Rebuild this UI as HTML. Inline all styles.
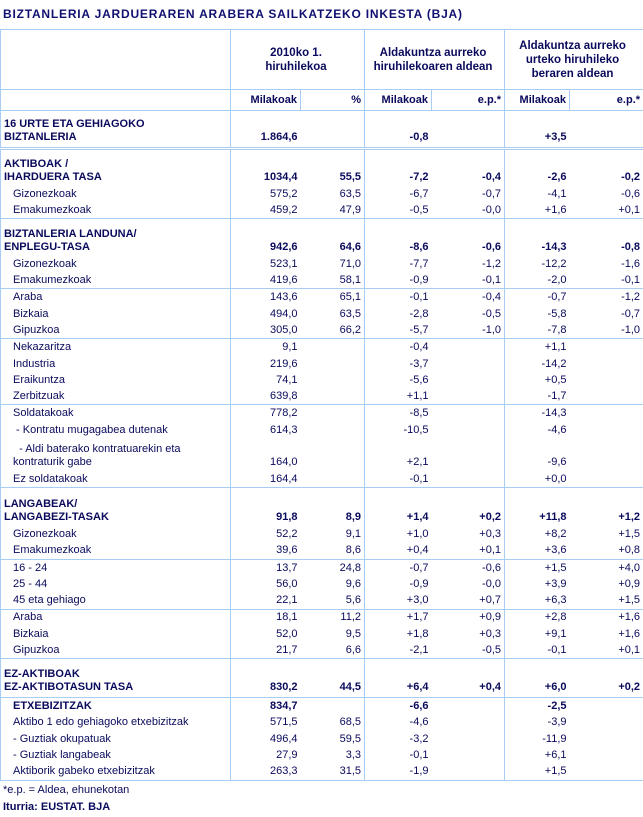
<!DOCTYPE html>
<html><head><meta charset="utf-8"><style>
body{margin:0;background:#fff;width:643px;height:817px;overflow:hidden;font-family:"Liberation Sans",Tahoma,sans-serif;color:#0a0a5c;font-size:11px;position:relative}
.title{position:absolute;left:3px;top:7px;font-weight:bold;font-size:12px;letter-spacing:0.8px;color:#101070}
table{position:absolute;left:0;top:29px;border-collapse:collapse;table-layout:fixed;width:643px}
td{padding:0 3px 0 0;white-space:nowrap;overflow:visible;text-align:right;vertical-align:middle;line-height:13px}
td.l{text-align:left;padding-left:12px}
td.h{text-align:left;padding-left:3px;font-weight:bold;vertical-align:bottom;padding-bottom:3px}
td.m{border-left:1px solid #a8cdf5}
tr.b td{font-weight:bold}
tr.hd td{vertical-align:bottom;padding-bottom:3px}
tr.sep td{border-bottom:1px solid #a8cdf5}
tr.dbl td{border-bottom:3px double #a8cdf5}
table{border-left:1px solid #a8cdf5;border-right:1px solid #a8cdf5;border-top:1px solid #a8cdf5;border-bottom:1px solid #a8cdf5}
.th td{font-weight:bold;text-align:center;vertical-align:middle;font-size:11.5px;line-height:14px}
.sub td{font-weight:bold}
.foot{position:absolute;left:3px;font-size:11px}
</style></head><body>
<div class="title">BIZTANLERIA JARDUERAREN ARABERA SAILKATZEKO INKESTA (BJA)</div>
<table>
<colgroup><col style="width:230px"><col style="width:70px"><col style="width:64px"><col style="width:67px"><col style="width:73px"><col style="width:65px"><col style="width:74px"></colgroup>
<tr class="th sep" style="height:60px"><td></td><td class="m" colspan="2">2010ko 1.<br>hiruhilekoa</td><td class="m" colspan="2">Aldakuntza aurreko<br>hiruhilekoaren aldean</td><td class="m" colspan="2">Aldakuntza aurreko<br>urteko hiruhileko<br>beraren aldean</td></tr>
<tr class="sub sep" style="height:21px"><td></td><td class="m">Milakoak</td><td class="m">%</td><td class="m">Milakoak</td><td class="m">e.p.*</td><td class="m">Milakoak</td><td class="m">e.p.*</td></tr>
<tr class="b hd dbl" style="height:38px"><td class="h">16 URTE ETA GEHIAGOKO<br>BIZTANLERIA</td><td class="m">1.864,6</td><td></td><td class="m">-0,8</td><td></td><td class="m">+3,5</td><td></td></tr>
<tr class="b hd" style="height:38px"><td class="h">AKTIBOAK /<br>IHARDUERA TASA</td><td class="m">1034,4</td><td>55,5</td><td class="m">-7,2</td><td>-0,4</td><td class="m">-2,6</td><td>-0,2</td></tr>
<tr style="height:16px"><td class="l">Gizonezkoak</td><td class="m">575,2</td><td>63,5</td><td class="m">-6,7</td><td>-0,7</td><td class="m">-4,1</td><td>-0,6</td></tr>
<tr class="sep" style="height:16px"><td class="l">Emakumezkoak</td><td class="m">459,2</td><td>47,9</td><td class="m">-0,5</td><td>-0,0</td><td class="m">+1,6</td><td>+0,1</td></tr>
<tr class="b hd" style="height:38px"><td class="h">BIZTANLERIA LANDUNA/<br>ENPLEGU-TASA</td><td class="m">942,6</td><td>64,6</td><td class="m">-8,6</td><td>-0,6</td><td class="m">-14,3</td><td>-0,8</td></tr>
<tr style="height:16px"><td class="l">Gizonezkoak</td><td class="m">523,1</td><td>71,0</td><td class="m">-7,7</td><td>-1,2</td><td class="m">-12,2</td><td>-1,6</td></tr>
<tr class="sep" style="height:16px"><td class="l">Emakumezkoak</td><td class="m">419,6</td><td>58,1</td><td class="m">-0,9</td><td>-0,1</td><td class="m">-2,0</td><td>-0,1</td></tr>
<tr style="height:17px"><td class="l">Araba</td><td class="m">143,6</td><td>65,1</td><td class="m">-0,1</td><td>-0,4</td><td class="m">-0,7</td><td>-1,2</td></tr>
<tr style="height:17px"><td class="l">Bizkaia</td><td class="m">494,0</td><td>63,5</td><td class="m">-2,8</td><td>-0,5</td><td class="m">-5,8</td><td>-0,7</td></tr>
<tr class="sep" style="height:16px"><td class="l">Gipuzkoa</td><td class="m">305,0</td><td>66,2</td><td class="m">-5,7</td><td>-1,0</td><td class="m">-7,8</td><td>-1,0</td></tr>
<tr style="height:17px"><td class="l">Nekazaritza</td><td class="m">9,1</td><td></td><td class="m">-0,4</td><td></td><td class="m">+1,1</td><td></td></tr>
<tr style="height:17px"><td class="l">Industria</td><td class="m">219,6</td><td></td><td class="m">-3,7</td><td></td><td class="m">-14,2</td><td></td></tr>
<tr style="height:16px"><td class="l">Eraikuntza</td><td class="m">74,1</td><td></td><td class="m">-5,6</td><td></td><td class="m">+0,5</td><td></td></tr>
<tr class="sep" style="height:16px"><td class="l">Zerbitzuak</td><td class="m">639,8</td><td></td><td class="m">+1,1</td><td></td><td class="m">-1,7</td><td></td></tr>
<tr style="height:17px"><td class="l">Soldatakoak</td><td class="m">778,2</td><td></td><td class="m">-8,5</td><td></td><td class="m">-14,3</td><td></td></tr>
<tr style="height:17px"><td class="l">&nbsp;- Kontratu mugagabea dutenak</td><td class="m">614,3</td><td></td><td class="m">-10,5</td><td></td><td class="m">-4,6</td><td></td></tr>
<tr class="hd" style="height:33px"><td class="l" style="vertical-align:bottom">&nbsp;&nbsp;- Aldi baterako kontratuarekin eta<br>kontraturik gabe</td><td class="m">164,0</td><td></td><td class="m">+2,1</td><td></td><td class="m">-9,6</td><td></td></tr>
<tr class="sep" style="height:16px"><td class="l">Ez soldatakoak</td><td class="m">164,4</td><td></td><td class="m">-0,1</td><td></td><td class="m">+0,0</td><td></td></tr>
<tr class="b hd" style="height:39px"><td class="h">LANGABEAK/<br>LANGABEZI-TASAK</td><td class="m">91,8</td><td>8,9</td><td class="m">+1,4</td><td>+0,2</td><td class="m">+11,8</td><td>+1,2</td></tr>
<tr style="height:16px"><td class="l">Gizonezkoak</td><td class="m">52,2</td><td>9,1</td><td class="m">+1,0</td><td>+0,3</td><td class="m">+8,2</td><td>+1,5</td></tr>
<tr class="sep" style="height:17px"><td class="l">Emakumezkoak</td><td class="m">39,6</td><td>8,6</td><td class="m">+0,4</td><td>+0,1</td><td class="m">+3,6</td><td>+0,8</td></tr>
<tr style="height:17px"><td class="l">16 - 24</td><td class="m">13,7</td><td>24,8</td><td class="m">-0,7</td><td>-0,6</td><td class="m">+1,5</td><td>+4,0</td></tr>
<tr style="height:16px"><td class="l">25 - 44</td><td class="m">56,0</td><td>9,6</td><td class="m">-0,9</td><td>-0,0</td><td class="m">+3,9</td><td>+0,9</td></tr>
<tr class="sep" style="height:17px"><td class="l">45 eta gehiago</td><td class="m">22,1</td><td>5,6</td><td class="m">+3,0</td><td>+0,7</td><td class="m">+6,3</td><td>+1,5</td></tr>
<tr style="height:16px"><td class="l">Araba</td><td class="m">18,1</td><td>11,2</td><td class="m">+1,7</td><td>+0,9</td><td class="m">+2,8</td><td>+1,6</td></tr>
<tr style="height:17px"><td class="l">Bizkaia</td><td class="m">52,0</td><td>9,5</td><td class="m">+1,8</td><td>+0,3</td><td class="m">+9,1</td><td>+1,6</td></tr>
<tr class="sep" style="height:16px"><td class="l">Gipuzkoa</td><td class="m">21,7</td><td>6,6</td><td class="m">-2,1</td><td>-0,5</td><td class="m">-0,1</td><td>+0,1</td></tr>
<tr class="b hd sep" style="height:39px"><td class="h">EZ-AKTIBOAK<br>EZ-AKTIBOTASUN TASA</td><td class="m">830,2</td><td>44,5</td><td class="m">+6,4</td><td>+0,4</td><td class="m">+6,0</td><td>+0,2</td></tr>
<tr class="b" style="height:17px"><td class="l">ETXEBIZITZAK</td><td class="m">834,7</td><td></td><td class="m">-6,6</td><td></td><td class="m">-2,5</td><td></td></tr>
<tr style="height:16px"><td class="l">Aktibo 1 edo gehiagoko etxebizitzak</td><td class="m">571,5</td><td>68,5</td><td class="m">-4,6</td><td></td><td class="m">-3,9</td><td></td></tr>
<tr style="height:17px"><td class="l">- Guztiak okupatuak</td><td class="m">496,4</td><td>59,5</td><td class="m">-3,2</td><td></td><td class="m">-11,9</td><td></td></tr>
<tr style="height:16px"><td class="l">- Guztiak langabeak</td><td class="m">27,9</td><td>3,3</td><td class="m">-0,1</td><td></td><td class="m">+6,1</td><td></td></tr>
<tr style="height:17px"><td class="l">Aktiborik gabeko etxebizitzak</td><td class="m">263,3</td><td>31,5</td><td class="m">-1,9</td><td></td><td class="m">+1,5</td><td></td></tr>
</table>
<div class="foot" style="top:784px">*e.p. = Aldea, ehunekotan</div>
<div class="foot" style="top:801px;font-weight:bold">Iturria: EUSTAT. BJA</div>
</body></html>
